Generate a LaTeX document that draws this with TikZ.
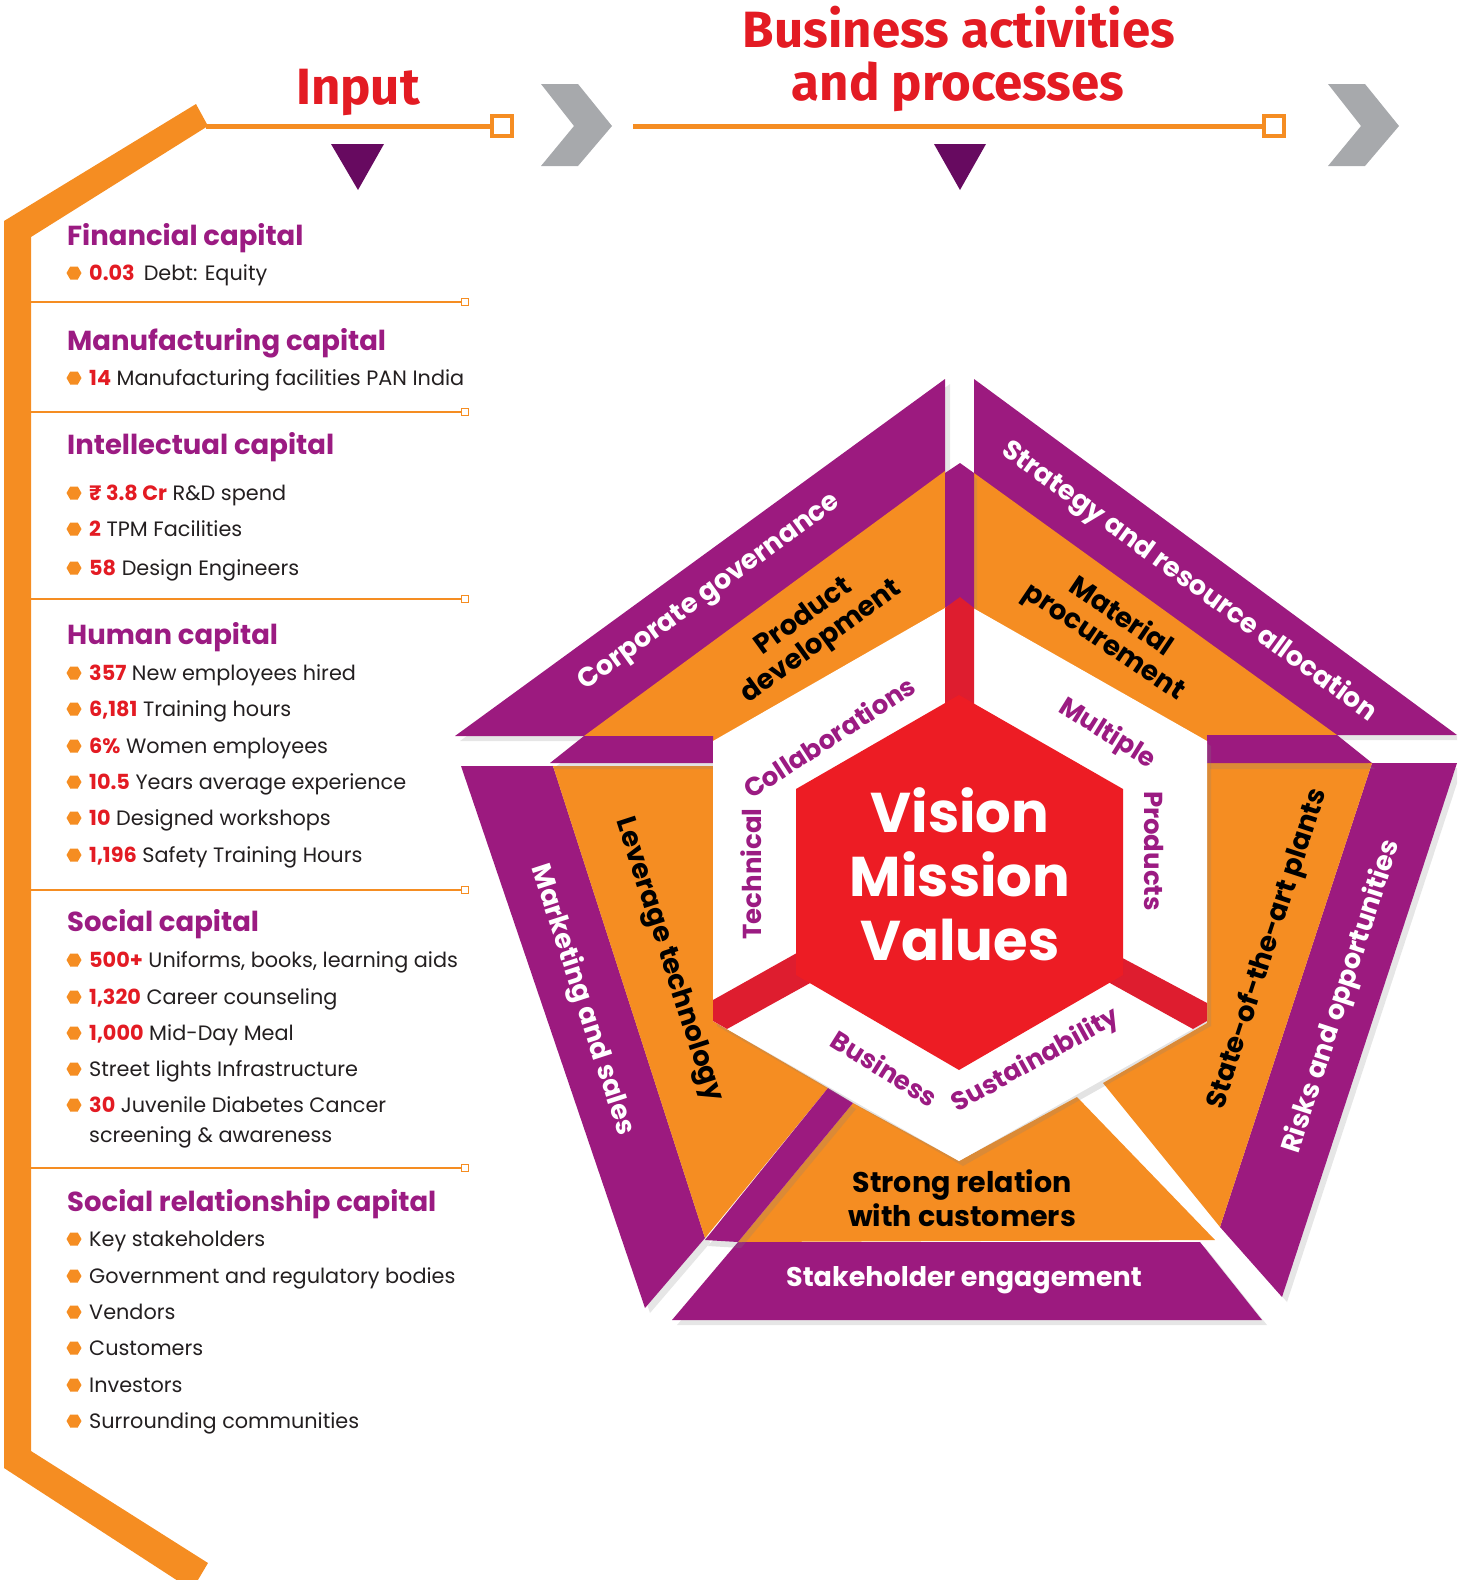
\documentclass[tikz,border=0pt]{standalone}
\usepackage{fontspec}
\setmainfont{Poppins}
\newfontfamily\titlefont{Fira Sans}
\usetikzlibrary{shapes.geometric, shadows}

\definecolor{bandpurple}{RGB}{156,26,127}
\definecolor{bandorange}{RGB}{245,141,34}
\definecolor{hexred}{RGB}{237,28,36}
\definecolor{foldred}{RGB}{222,29,47}
\definecolor{titlered}{RGB}{227,27,35}
\definecolor{headpurple}{RGB}{155,27,130}
\definecolor{darkplum}{RGB}{103,10,96}
\definecolor{chevgray}{RGB}{167,169,172}
\definecolor{bodytext}{RGB}{35,31,32}

\newcommand{\nm}[1]{\textcolor{titlered}{\bfseries #1}}

\tikzset{
  purpleband/.style={fill=bandpurple, drop shadow={opacity=0.2, shadow xshift=5pt, shadow yshift=-5pt}},
  orangeband/.style={fill=bandorange},
  foldband/.style={fill=bandpurple, drop shadow={opacity=0.22, shadow xshift=3pt, shadow yshift=-6pt}},
  ringband/.style={fill=white, drop shadow={opacity=0.22, shadow xshift=4pt, shadow yshift=-5pt}},
  bandlabel/.style={font=\bfseries\fontsize{27}{32}\selectfont, text=white, inner sep=0pt},
  orangelabel/.style={font=\bfseries\fontsize{27.5}{30}\selectfont, text=black, align=center, inner sep=0pt},
  ringlabel/.style={font=\bfseries\fontsize{26}{30}\selectfont, text=headpurple, inner sep=0pt},
  capital/.style={anchor=base west, inner sep=0pt, font=\bfseries\fontsize{27.5}{32}\selectfont, text=headpurple},
  itemtext/.style={anchor=base west, inner sep=0pt, font=\fontsize{20.8}{29}\selectfont, text=bodytext},
  hexbullet/.style={regular polygon, regular polygon sides=6, fill=bandorange, minimum size=15pt, inner sep=0pt},
  divider/.style={draw=bandorange, line width=2pt},
  endbox/.style={draw=bandorange, fill=white, line width=1.8pt, minimum size=7pt, inner sep=0pt},
  topline/.style={draw=bandorange, line width=5pt},
  bigbox/.style={draw=bandorange, fill=white, line width=4.5pt, minimum size=20pt, inner sep=0pt},
  heading/.style={anchor=base, inner sep=0pt, text=titlered, font=\titlefont\bfseries\fontsize{51}{56}\selectfont},
}

\begin{document}
\begin{tikzpicture}[x=1pt, y=-1pt]
\useasboundingbox (0,0) rectangle (1457,1580);
\clip (0,0) rectangle (1457,1580);

% bracket, header lines, chevrons
\fill[bandorange] (196,104) -- (208,126) -- (31,237) -- (31,1451) -- (208,1563)
  -- (192,1590) -- (4,1468) -- (4,221) -- cycle;
\coordinate (inL) at (206,126);
\node[bigbox] (inq) at (502,126) {};
\draw[topline] (inL) -- (inq.west);
\coordinate (bizL) at (633,126);
\node[bigbox] (bizq) at (1274,126) {};
\draw[topline] (bizL) -- (bizq.west);
\fill[chevgray] (541,84) -- (578,84) -- (612,126) -- (578,166) -- (541,166) -- (574,126) -- cycle;
\fill[chevgray] (1328,84) -- (1365,84) -- (1399,126) -- (1365,166) -- (1328,166) -- (1361,126) -- cycle;
\fill[darkplum] (331,144) -- (384,144) -- (358,190) -- cycle;
\fill[darkplum] (934,144) -- (986,144) -- (960,190) -- cycle;

\node[heading] (input) at (358,104) {Input};
\node[heading] (biz1) at (959,47) {Business activities};
\node[heading] (biz2) at (958,100) {and processes};

% capitals
\foreach \y [count=\i] in {302,412,599,890,1168} {
  \coordinate (dv\i) at (31,\y);
  \node[endbox] (dq\i) at (465,\y) {};
  \draw[divider] (dv\i) -- (dq\i.west);
}

\node[capital] (fincap) at (67,245) {Financial capital};
\node[capital] (mfgcap) at (67,350) {Manufacturing capital};
\node[capital] (intcap) at (67,454) {Intellectual capital};
\node[capital] (humcap) at (67,644) {Human capital};
\node[capital] (soccap) at (67,931) {Social capital};
\node[capital] (relcap) at (67,1211) {Social relationship capital};

\foreach \y/\txt [count=\i] in {
  280/{\nm{0.03}\hspace{9pt}Debt: Equity},
  385/{\nm{14} Manufacturing facilities PAN India},
  500/{\nm{₹ 3.8 Cr} R\&D spend},
  536/{\nm{2} TPM Facilities},
  575/{\nm{58} Design Engineers},
  680/{\nm{357} New employees hired},
  716/{\nm{6,181} Training hours},
  753/{\nm{6\%} Women employees},
  789/{\nm{10.5} Years average experience},
  825/{\nm{10} Designed workshops},
  862/{\nm{1,196} Safety Training Hours},
  967/{\nm{500+} Uniforms, books, learning aids},
  1004/{\nm{1,320} Career counseling},
  1040/{\nm{1,000} Mid-Day Meal},
  1076/{Street lights Infrastructure},
  1112/{\nm{30} Juvenile Diabetes Cancer},
  1246/{Key stakeholders},
  1283/{Government and regulatory bodies},
  1319/{Vendors},
  1355/{Customers},
  1392/{Investors},
  1428/{Surrounding communities}} {
  \node[hexbullet] (hb\i) at (74,\y-7) {};
  \node[itemtext] (ht\i) at (89,\y) {\txt};
}
\node[itemtext] (ht16b) at (89,1142) {screening \& awareness};

% pentagon: outer purple pieces
\fill[purpleband] (455,736) -- (945,379) -- (945,736) -- cycle;
\fill[purpleband] (974,379) -- (1457,735) -- (974,735) -- cycle;
\fill[purpleband] (1372,763) -- (1457,763) -- (1282,1297) -- (1220,1227) -- cycle;
\fill[purpleband] (738,1242) -- (1200,1242) -- (1262,1320) -- (672,1320) -- cycle;
\fill[purpleband] (461,766) -- (553,766) -- (705,1238) -- (645,1308) -- cycle;

% orange pieces
\fill[orangeband] (584,736) -- (945,471) -- (945,618) -- (713,752) -- (713,736) -- cycle;
\fill[orangeband] (974,473) -- (1337,735) -- (1207,735) -- (1207,748) -- (974,614) -- cycle;
\fill[orangeband] (1207,763) -- (1372,763) -- (1220,1227) -- (1103,1083) -- (1207,1023) -- cycle;
\fill[orangeband] (853,1103) -- (959,1161) -- (1077,1097) -- (1215,1240) -- (738,1242) -- cycle;
\fill[orangeband] (553,766) -- (713,766) -- (713,1021) -- (828,1088) -- (705,1238) -- cycle;

% folds
\fill[foldband] (550,763) -- (584,736) -- (713,736) -- (713,763) -- cycle;
\fill[foldband] (945,473) -- (960,463) -- (974,473) -- (974,612) -- (945,612) -- cycle;
\fill[foldband] (1207,735) -- (1337,735) -- (1372,763) -- (1207,763) -- cycle;
\fill[foldband] (828,1088) -- (853,1103) -- (738,1242) -- (705,1240) -- cycle;

% white ring and red core
\fill[ringband] (959,600) -- (1207,741) -- (1207,1021) -- (959,1161) -- (713,1021) -- (713,741) -- cycle;
\fill[foldred] (945,608) -- (960,597) -- (974,608) -- (974,710) -- (945,710) -- cycle;
\fill[foldred] (713,1000) -- (820,940) -- (830,972) -- (727,1029) -- (713,1021) -- cycle;
\fill[foldred] (1100,946) -- (1207,1003) -- (1207,1021) -- (1193,1029) -- (1090,972) -- cycle;
\fill[hexred] (959,695) -- (1123,789) -- (1123,975) -- (959,1070) -- (796,975) -- (796,789) -- cycle;

% labels
\node[bandlabel, rotate=36] (corpgov) at (710,593) {Corporate governance};
\node[bandlabel, rotate=-36] (strat) at (1189,582) {Strategy and resource allocation};
\node[bandlabel, rotate=-72] (mktg) at (582,1000) {Marketing and sales};
\node[bandlabel, rotate=72] (risks) at (1342,997) {Risks and opportunities};
\node[bandlabel] (stake) at (964,1280) {Stakeholder engagement};

\node[orangelabel, rotate=36] (proddev) at (813,630) {Product\\development};
\node[orangelabel, rotate=-34] (matproc) at (1112,630) {Material\\procurement};
\node[orangelabel, rotate=-72] (levtech) at (668,960) {Leverage technology};
\node[orangelabel, rotate=72] (stateart) at (1268,949) {State-of-the-art plants};
\node[orangelabel, font=\bfseries\fontsize{28.5}{34}\selectfont] (strongrel) at (962,1198) {Strong relation\\with customers};

\node[ringlabel, rotate=90] (technical) at (751,874) {Technical};
\node[ringlabel, rotate=33] (collab) at (829,737) {Collaborations};
\node[ringlabel, rotate=-32] (multiple) at (1107,734) {Multiple};
\node[ringlabel, rotate=-90] (products) at (1154,851) {Products};
\node[ringlabel, rotate=-32] (business) at (885,1068) {Business};
\node[ringlabel, rotate=29] (sustain) at (1036,1061) {Sustainability};

\node[font=\bfseries\fontsize{56}{64}\selectfont, text=white, align=center, inner sep=0pt] (vmv) at (960,874) {Vision\\Mission\\Values};

\end{tikzpicture}
\end{document}
